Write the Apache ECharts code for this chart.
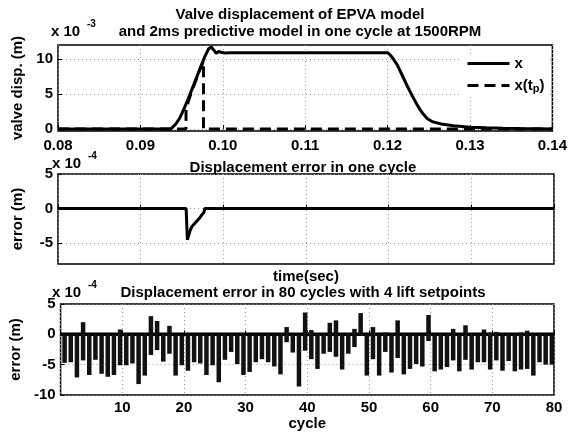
<!DOCTYPE html>
<html><head><meta charset="utf-8">
<script src="https://cdn.jsdelivr.net/npm/echarts@6/dist/echarts.min.js"></script>
<style>html,body{margin:0;padding:0;background:#fff}#c{width:570px;height:436px}</style>
</head><body><div id="c"></div>
<script>
// ---- Panel 1: valve displacement (x 10^-3 m) ----
const timeDisp = [0.080, 0.0937, 0.0943, 0.0948, 0.0953, 0.0958, 0.0963, 0.0968, 0.0973, 0.0978, 0.0983, 0.0986, 0.0989, 0.0992, 0.0995, 0.0998, 0.1002, 0.1010, 0.1100, 0.1200, 0.1203, 0.1207, 0.1212, 0.1218, 0.1224, 0.1230, 0.1236, 0.1242, 0.1248, 0.1255, 0.1265, 0.1280, 0.1300, 0.1320, 0.1340, 0.1360, 0.1400];
const xDisp    = [0, 0, 0.7, 1.6, 2.9, 4.3, 5.8, 7.3, 8.8, 10.3, 11.5, 11.7, 11.3, 10.8, 11.1, 10.95, 10.85, 10.9, 10.9, 10.9, 10.6, 10.0, 9.1, 7.6, 6.1, 4.7, 3.4, 2.3, 1.5, 1.0, 0.7, 0.45, 0.25, 0.15, 0.08, 0.04, 0];
const timePred = [0.080, 0.09553, 0.09554, 0.0958, 0.0963, 0.0968, 0.0973, 0.09765, 0.09766, 0.140];
const xPred    = [0, 0, 2.55, 3.9, 5.6, 7.15, 8.74, 9.7, 0, 0];
// ---- Panel 2: displacement error in one cycle (x 10^-4 m) ----
const timeErr = [0.080, 0.09550, 0.09565, 0.0958, 0.0960, 0.0962, 0.0965, 0.0968, 0.0971, 0.0974, 0.09765, 0.09775, 0.140];
const errOne  = [0, 0, -4.5, -3.9, -3.1, -2.6, -2.2, -1.8, -1.4, -0.9, -0.55, 0, 0];
// ---- Panel 3: displacement error in 80 cycles (x 10^-4 m) ----
const cycleErrMax = [0,0,0,2.0,0,0,0,0,0,0.8, 0,0,0,0,3.0,2.2,0,1.4,0,0, 0,0,0,0,0,0,0,0,0,0, 0,0,0,0,0,0,1.2,0,0,3.6, 0.7,0,0,1.9,2.3,0,0.2,0.9,3.5,0, 1.2,0,0.3,0,2.3,0,0,0,0,3.2, 0,0,0,0.9,0,1.5,0,0,0.8,0.3, 0.4,0,0,0,0.3,0.6,0,0,0,0];
const cycleErrMin = [-4.7,-4.6,-7.1,-4.3,-6.7,-4.2,-6.5,-7.0,-6.7,-5.1, -5.1,-4.8,-8.2,-6.8,-3.4,-2.6,-4.5,-3.2,-6.8,-5.1, -6.0,-4.6,-4.8,-6.7,-5.1,-7.9,-4.2,-2.9,-4.9,-6.7, -6.2,-4.6,-4.1,-4.6,-5.3,-6.6,-1.3,-3.0,-8.6,-2.7, -4.1,-5.7,-3.2,-2.9,-3.7,-5.8,-3.2,-2.1,-0.2,-6.8, -4.1,-6.8,-2.9,-6.3,-3.9,-6.6,-5.7,-4.9,-5.3,-1.1, -6.1,-5.8,-5.4,-4.3,-6.1,-4.2,-5.8,-4.6,-4.6,-5.8, -4.3,-6.0,-4.4,-6.1,-5.8,-5.7,-6.8,-4.6,-5.0,-5.0];
const topYTicks = [0, 5, 10];
const midYTicks = [-5, 0, 5];
const timeRange = [0.08, 0.14];
const cycleRange = [0, 80];

const FONT = "'Liberation Sans', Arial, Helvetica, sans-serif";
const FS = 15;
const pair = (a, b) => a.map((v, i) => [v, b[i]]);

const chart = echarts.init(document.getElementById('c'), null, {renderer: 'canvas'});
const gridLine = {show: true, lineStyle: {color: '#9a9a9a', width: 1, type: [1, 3]}};
const tick = {show: true, inside: true, length: 4, lineStyle: {color: '#000', width: 1}};
const lbl = {color: '#000', fontFamily: FONT, fontSize: FS, fontWeight: 'bold'};
const nameStyle = {color: '#000', fontFamily: FONT, fontSize: FS, fontWeight: 'bold'};
const gridBase = {show: true, borderColor: '#000', borderWidth: 1.5, backgroundColor: '#fff', containLabel: false};

const txt = (text, x, y, size, align) => ({
  type: 'text', silent: true,
  style: {text, x, y, fill: '#000', fontFamily: FONT, fontSize: size || FS, fontWeight: 'bold', align: align || 'center', verticalAlign: 'middle'}
});

const option = {
  animation: false,
  backgroundColor: '#fff',
  grid: [
    Object.assign({left: 58, top: 45, width: 496, height: 86}, gridBase),
    Object.assign({left: 58, top: 174, width: 496, height: 90}, gridBase),
    Object.assign({left: 58, top: 304, width: 496, height: 91}, gridBase)
  ],
  xAxis: [
    {gridIndex: 0, type: 'value', min: timeRange[0], max: timeRange[1], interval: 0.01,
     axisLine: {show: false}, axisTick: tick, splitLine: gridLine,
     axisLabel: Object.assign({margin: 7, formatter: v => v.toFixed(2), showMinLabel: true, showMaxLabel: true}, lbl)},
    {gridIndex: 1, type: 'value', min: timeRange[0], max: timeRange[1], interval: 0.01,
     axisLine: {show: false}, axisTick: tick, splitLine: gridLine, axisLabel: {show: false},
     name: 'time(sec)', nameLocation: 'middle', nameGap: 5, nameTextStyle: Object.assign({verticalAlign: 'top'}, nameStyle)},
    {gridIndex: 2, type: 'value', min: cycleRange[0], max: cycleRange[1], interval: 10,
     axisLine: {show: false}, axisTick: tick, splitLine: gridLine,
     axisLabel: Object.assign({margin: 5, formatter: v => (v === 0 ? '' : String(v))}, lbl),
     name: 'cycle', nameLocation: 'middle', nameGap: 21, nameTextStyle: Object.assign({verticalAlign: 'top'}, nameStyle)}
  ],
  yAxis: [
    {gridIndex: 0, type: 'value', min: -0.3, max: 12,
     axisLine: {show: false},
     axisTick: Object.assign({customValues: topYTicks}, tick),
     splitLine: gridLine,
     axisLabel: Object.assign({margin: 5, customValues: topYTicks}, lbl),
     name: 'valve disp. (m)', nameLocation: 'middle', nameGap: 33, nameTextStyle: nameStyle},
    {gridIndex: 1, type: 'value', min: -8, max: 5,
     axisLine: {show: false},
     axisTick: Object.assign({customValues: midYTicks}, tick),
     splitLine: gridLine,
     axisLabel: Object.assign({margin: 5, customValues: midYTicks}, lbl),
     name: 'error (m)', nameLocation: 'middle', nameGap: 33, nameTextStyle: nameStyle},
    {gridIndex: 2, type: 'value', min: -10, max: 5, interval: 5,
     axisLine: {show: false}, axisTick: tick, splitLine: gridLine,
     axisLabel: Object.assign({margin: 5}, lbl),
     name: 'error (m)', nameLocation: 'middle', nameGap: 33, nameTextStyle: nameStyle}
  ],
  legend: {
    orient: 'vertical', left: 462, top: 54, itemWidth: 42, itemHeight: 14, itemGap: 7,
    backgroundColor: '#fff', padding: [2, 4, 2, 4],
    data: ['x', 'x(tp)'],
    itemStyle: {color: 'rgba(0,0,0,0)', borderWidth: 0, opacity: 0},
    lineStyle: {width: 3, color: '#000'},
    formatter: n => (n === 'x' ? '{n|x}' : '{n|x(t}{s|p}{n|)}'),
    textStyle: {
      color: '#000', fontFamily: FONT, fontSize: FS, fontWeight: 'bold',
      rich: {
        n: {fontFamily: FONT, fontSize: FS, fontWeight: 'bold', color: '#000'},
        s: {fontFamily: FONT, fontSize: 11, fontWeight: 'bold', color: '#000', padding: [7, 0, 0, 0]}
      }
    }
  },
  graphic: [
    txt('Valve displacement of EPVA model', 300, 15),
    txt('and 2ms predictive model in one cycle at 1500RPM', 300, 32),
    txt('x 10', 51, 32, FS, 'left'),
    txt('-3', 87, 24, 10, 'left'),
    txt('Displacement error in one cycle', 303, 168),
    txt('x 10', 52, 164, FS, 'left'),
    txt('-4', 88, 156, 10, 'left'),
    txt('Displacement error in 80 cycles with 4 lift setpoints', 303, 293),
    txt('x 10', 52, 293, FS, 'left'),
    txt('-4', 88, 285, 10, 'left')
  ],
  series: [
    {name: 'x', type: 'line', xAxisIndex: 0, yAxisIndex: 0, data: pair(timeDisp, xDisp),
     symbol: 'none', lineStyle: {color: '#000', width: 3}, itemStyle: {color: '#000'}, z: 3},
    {name: 'x(tp)', type: 'line', xAxisIndex: 0, yAxisIndex: 0, data: pair(timePred, xPred),
     symbol: 'none', lineStyle: {color: '#000', width: 3, type: [11, 6]}, itemStyle: {color: '#000'}, z: 4},
    {name: 'err1', type: 'line', xAxisIndex: 1, yAxisIndex: 1, data: pair(timeErr, errOne),
     symbol: 'none', lineStyle: {color: '#000', width: 3}, z: 3},
    {name: 'zero80', type: 'line', xAxisIndex: 2, yAxisIndex: 2, data: [[cycleRange[0], 0], [cycleRange[1], 0]],
     symbol: 'none', lineStyle: {color: '#000', width: 3.5}, z: 3},
    {name: 'err80', type: 'custom', xAxisIndex: 2, yAxisIndex: 2, z: 4,
     data: cycleErrMin.map((lo, i) => [i + 1 - 0.35, lo, cycleErrMax[i]]),
     clip: true,
     renderItem: (params, api) => {
       const a = api.coord([api.value(0), api.value(2)]);
       const b = api.coord([api.value(0), api.value(1)]);
       const w = 4.5;
       return {type: 'rect', shape: {x: a[0] - w / 2, y: a[1], width: w, height: b[1] - a[1]}, style: {fill: '#111'}};
     }}
  ]
};
chart.setOption(option);
</script>
</body></html>
